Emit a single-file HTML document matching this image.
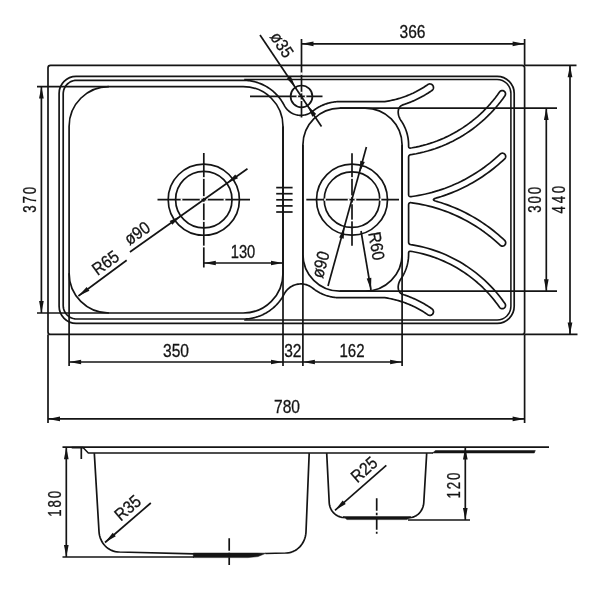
<!DOCTYPE html>
<html><head><meta charset="utf-8"><title>Sink drawing</title>
<style>
html,body{margin:0;padding:0;background:#fff;}
body{width:600px;height:600px;overflow:hidden;}
svg{display:block;}
svg text{font-family:"Liberation Sans",sans-serif;}
svg{filter:grayscale(1);}
</style></head>
<body>
<svg width="600" height="600" viewBox="0 0 600 600" stroke="#141414" fill="none">
<rect x="0" y="0" width="600" height="600" fill="#fff" stroke="none"/>
<rect x="48" y="65.3" width="476.6" height="269.1" rx="2.5" ry="2.5" stroke-width="1.7" fill="none"/>
<rect x="59.1" y="76.4" width="455.1" height="246.9" rx="17" ry="17" stroke-width="1.7" fill="none"/>
<rect x="69.1" y="86.6" width="213.9" height="226.4" rx="39.8" ry="39.8" stroke-width="1.7" fill="none"/>
<rect x="302.9" y="108.1" width="99.2" height="183.1" rx="37" ry="37" stroke-width="1.7" fill="none"/>
<path d="M243.2 80.3 L244.46 80.32 L245.72 80.37 L246.98 80.45 L248.23 80.58 L249.48 80.73 L250.73 80.92 L251.97 81.14 L253.2 81.4 L254.42 81.69 L255.64 82.01 L256.85 82.37 L258.05 82.76 L259.24 83.18 L260.41 83.63 L261.57 84.12 L262.72 84.64 L263.86 85.19 L264.97 85.77 L266.08 86.38 L267.16 87.02 L268.23 87.69 L269.28 88.38 L270.31 89.11 L271.32 89.87 L272.3 90.65 L273.27 91.46 L274.21 92.29 L275.13 93.15 L276.03 94.04 L276.9 94.95 L277.75 95.88 L278.57 96.83 L279.36 97.81 L280.13 98.81 L280.87 99.83 L281.58 100.87 L282.27 101.93 L282.92 103 L283.55 104.1 L284.14 105.21 L284.54 105.94 L284.97 106.65 L285.43 107.34 L285.92 108.02 L286.45 108.66 L287 109.29 L287.57 109.89 L288.17 110.46 L288.8 111.01 L289.45 111.53 L290.13 112.02 L290.82 112.48 L291.53 112.9 L292.27 113.3 L293.02 113.66 L293.78 113.99 L294.56 114.29 L295.35 114.55 L296.15 114.77 L296.96 114.96 L297.78 115.12 L298.6 115.23 L299.43 115.31 L300.26 115.36 L301.09 115.37 L301.93 115.34 L302.75 115.27 L303.58 115.17 L304.4 115.03 L305.21 114.85 L306.02 114.64 L306.81 114.39 L307.6 114.11 L308.37 113.79 L309.12 113.44 L309.86 113.06 L310.58 112.65 L311.28 112.2 L311.97 111.72 L312.62 111.21 L313.2 110.76 L313.79 110.31 L314.38 109.87 L314.98 109.44 L315.59 109.03 L316.2 108.62 L316.83 108.22 L317.45 107.84 L318.09 107.46 L318.73 107.1 L319.38 106.75 L320.03 106.4 L320.69 106.07 L321.35 105.75 L322.02 105.44 L322.7 105.15 L323.37 104.86 L324.06 104.59 L324.75 104.32 L325.44 104.07 L326.14 103.83 L326.84 103.61 L327.54 103.39 L328.25 103.19 L328.96 103 L329.68 102.82 L330.4 102.65 L331.12 102.5 L331.84 102.35 L332.57 102.22 L333.29 102.1 L334.02 102 L334.75 101.91 L335.49 101.82 L336.22 101.76 L336.95 101.7 L337.69 101.66 L338.43 101.62 L339.16 101.61 L339.9 101.6 L384.73 101.6 L386.27 101.37 L387.8 101.11 L389.34 100.83 L390.87 100.53 L392.39 100.2 L393.91 99.85 L395.42 99.47 L396.93 99.07 L398.43 98.65 L399.92 98.2 L401.41 97.73 L402.89 97.24 L404.36 96.73 L405.82 96.19 L407.27 95.63 L408.72 95.04 L410.15 94.44 L411.58 93.81 L413 93.16 L414.4 92.48 L415.8 91.79 L417.18 91.07 L418.55 90.33 L419.91 89.57 L421.26 88.79 L422.6 87.99 L423.92 87.17 L425.23 86.33 L426.53 85.46 L427.82 84.58 L428.43 84.23 L429.1 84.01 L429.8 83.93 L430.51 83.98 L431.19 84.17 L431.82 84.49 L432.37 84.93 L432.83 85.46 L433.18 86.08 L433.4 86.75 L433.48 87.45 L433.43 88.16 L433.24 88.83 L432.92 89.46 L432.48 90.02 L431.94 90.48 L431.04 91.1 L430.14 91.72 L429.23 92.32 L428.31 92.91 L427.38 93.5 L426.45 94.08 L425.52 94.64 L424.57 95.2 L423.63 95.75 L422.67 96.28 L421.71 96.81 L420.75 97.33 L419.78 97.84 L418.81 98.34 L417.83 98.82 L416.84 99.3 L415.85 99.77 L414.86 100.23 L413.86 100.67 L412.86 101.11 L411.85 101.54 L410.84 101.96 L409.82 102.36 L408.8 102.76 L407.78 103.14 L406.75 103.52 L405.72 103.88 L404.68 104.24 L403.64 104.58 L402.6 104.91 L401.62 105.4 L400.76 106 L400.04 106.69 L399.44 107.47 L398.96 108.34 L398.6 109.27 L398.35 110.26 L398.22 111.29 L398.19 112.37 L398.27 113.47 L398.44 114.6 L398.72 115.73 L399.09 116.86 L399.55 117.98 L400.1 119.08 L400.73 120.15 L401.48 121.25 L402.19 122.37 L402.87 123.51 L403.51 124.68 L404.11 125.86 L404.68 127.06 L405.22 128.28 L405.71 129.51 L406.17 130.76 L406.59 132.02 L406.97 133.29 L407.31 134.58 L407.61 135.87 L407.87 137.17 L408.09 138.48 L408.28 139.8 L408.42 141.12 L408.52 142.44 L408.58 143.77 L408.6 145.1 L408.6 146.16 L408.62 146.57 L408.69 146.94 L408.8 147.25 L408.95 147.51 L409.14 147.72 L409.38 147.88 L409.66 147.99 L409.99 148.05 L410.36 148.05 L410.77 148.01 L412.22 147.78 L415.82 147.09 L419.41 146.31 L422.97 145.44 L426.5 144.46 L430.01 143.39 L433.49 142.23 L436.93 140.97 L440.34 139.62 L443.71 138.17 L447.04 136.64 L450.33 135.01 L453.57 133.3 L456.76 131.49 L459.9 129.6 L462.99 127.63 L466.03 125.57 L469.01 123.43 L471.93 121.21 L474.78 118.91 L477.58 116.54 L480.3 114.09 L482.96 111.56 L485.55 108.97 L488.07 106.3 L490.52 103.57 L492.89 100.77 L495.18 97.91 L497.39 94.99 L499.53 92 L499.95 91.51 L500.45 91.11 L501.03 90.82 L501.65 90.64 L502.3 90.59 L502.94 90.66 L503.56 90.86 L504.12 91.18 L504.61 91.6 L505.01 92.1 L505.31 92.68 L505.48 93.3 L505.54 93.95 L505.46 94.59 L505.26 95.2 L504.95 95.77 L502.69 98.92 L500.35 102.02 L497.92 105.04 L495.41 108 L492.82 110.89 L490.15 113.71 L487.41 116.45 L484.59 119.11 L481.7 121.7 L478.74 124.21 L475.71 126.63 L472.62 128.97 L469.46 131.22 L466.24 133.39 L462.97 135.47 L459.64 137.45 L456.25 139.35 L452.81 141.15 L449.33 142.86 L445.8 144.46 L442.23 145.98 L438.62 147.39 L434.97 148.7 L431.28 149.91 L427.56 151.03 L423.82 152.03 L420.05 152.94 L416.25 153.74 L412.43 154.44 L410.77 154.69 L410.36 154.78 L409.99 154.9 L409.67 155.06 L409.38 155.26 L409.14 155.49 L408.95 155.77 L408.8 156.07 L408.69 156.42 L408.62 156.81 L408.6 157.23 L408.6 194.31 L408.63 194.8 L408.7 195.23 L408.83 195.61 L409.01 195.92 L409.24 196.18 L409.53 196.38 L409.86 196.52 L410.25 196.6 L410.69 196.62 L411.18 196.58 L412 196.48 L415.39 195.97 L418.77 195.39 L422.13 194.74 L425.48 194.02 L428.81 193.22 L432.13 192.36 L435.42 191.42 L438.7 190.41 L441.95 189.33 L445.18 188.19 L448.38 186.97 L451.56 185.69 L454.71 184.34 L457.83 182.92 L460.92 181.43 L463.97 179.88 L466.99 178.26 L469.98 176.58 L472.93 174.84 L475.84 173.03 L478.71 171.16 L481.55 169.23 L484.34 167.24 L487.08 165.19 L489.78 163.09 L492.44 160.92 L495.05 158.7 L497.61 156.42 L500.12 154.09 L500.63 153.69 L501.21 153.4 L501.83 153.23 L502.48 153.19 L503.12 153.27 L503.73 153.47 L504.3 153.79 L504.79 154.21 L505.18 154.72 L505.47 155.3 L505.64 155.93 L505.69 156.57 L505.61 157.21 L505.41 157.83 L505.09 158.39 L504.66 158.88 L502.57 160.83 L500.45 162.74 L498.29 164.62 L496.1 166.46 L493.88 168.26 L491.63 170.02 L489.36 171.74 L487.05 173.43 L484.71 175.07 L482.34 176.68 L479.95 178.24 L477.53 179.76 L475.09 181.24 L472.62 182.68 L470.12 184.07 L467.61 185.43 L465.07 186.74 L462.5 188 L459.92 189.22 L457.31 190.4 L454.69 191.53 L452.05 192.62 L449.39 193.66 L446.71 194.66 L444.01 195.6 L441.3 196.51 L438.57 197.36 L436.68 197.92 L435.53 198.27 L434.64 198.61 L434 198.96 L433.62 199.3 L433.49 199.65 L433.62 200 L434 200.34 L434.64 200.69 L435.53 201.03 L436.68 201.38 L438.57 201.94 L441.3 202.79 L444.01 203.7 L446.71 204.64 L449.39 205.64 L452.05 206.68 L454.69 207.77 L457.31 208.9 L459.92 210.08 L462.5 211.3 L465.07 212.56 L467.61 213.87 L470.12 215.23 L472.62 216.62 L475.09 218.06 L477.53 219.54 L479.95 221.06 L482.34 222.62 L484.71 224.23 L487.05 225.87 L489.36 227.56 L491.63 229.28 L493.88 231.04 L496.1 232.84 L498.29 234.68 L500.45 236.56 L502.57 238.47 L504.66 240.42 L505.09 240.91 L505.41 241.47 L505.61 242.09 L505.69 242.73 L505.64 243.37 L505.47 244 L505.18 244.58 L504.79 245.09 L504.3 245.51 L503.73 245.83 L503.12 246.03 L502.48 246.11 L501.83 246.07 L501.21 245.9 L500.63 245.61 L500.12 245.21 L497.61 242.88 L495.05 240.6 L492.44 238.38 L489.78 236.21 L487.08 234.11 L484.34 232.06 L481.55 230.07 L478.71 228.14 L475.84 226.27 L472.93 224.46 L469.98 222.72 L466.99 221.04 L463.97 219.42 L460.92 217.87 L457.83 216.38 L454.71 214.96 L451.56 213.61 L448.38 212.33 L445.18 211.11 L441.95 209.97 L438.7 208.89 L435.42 207.88 L432.13 206.94 L428.81 206.08 L425.48 205.28 L422.13 204.56 L418.77 203.91 L415.39 203.33 L412 202.82 L411.18 202.72 L410.69 202.68 L410.25 202.7 L409.86 202.78 L409.53 202.92 L409.24 203.12 L409.01 203.38 L408.83 203.69 L408.7 204.07 L408.63 204.5 L408.6 204.99 L408.6 242.07 L408.62 242.49 L408.69 242.88 L408.8 243.23 L408.95 243.53 L409.14 243.81 L409.38 244.04 L409.67 244.24 L409.99 244.4 L410.36 244.52 L410.77 244.61 L412.43 244.86 L416.25 245.56 L420.05 246.36 L423.82 247.27 L427.56 248.27 L431.28 249.39 L434.97 250.6 L438.62 251.91 L442.23 253.32 L445.8 254.84 L449.33 256.44 L452.81 258.15 L456.25 259.95 L459.64 261.85 L462.97 263.83 L466.24 265.91 L469.46 268.08 L472.62 270.33 L475.71 272.67 L478.74 275.09 L481.7 277.6 L484.59 280.19 L487.41 282.85 L490.15 285.59 L492.82 288.41 L495.41 291.3 L497.92 294.26 L500.35 297.28 L502.69 300.38 L504.95 303.53 L505.26 304.1 L505.46 304.71 L505.54 305.35 L505.48 306 L505.31 306.62 L505.01 307.2 L504.61 307.7 L504.12 308.12 L503.56 308.44 L502.94 308.64 L502.3 308.71 L501.65 308.66 L501.03 308.48 L500.45 308.19 L499.95 307.79 L499.53 307.3 L497.39 304.31 L495.18 301.39 L492.89 298.53 L490.52 295.73 L488.07 293 L485.55 290.33 L482.96 287.74 L480.3 285.21 L477.58 282.76 L474.78 280.39 L471.93 278.09 L469.01 275.87 L466.03 273.73 L462.99 271.67 L459.9 269.7 L456.76 267.81 L453.57 266 L450.33 264.29 L447.04 262.66 L443.71 261.13 L440.34 259.68 L436.93 258.33 L433.49 257.07 L430.01 255.91 L426.5 254.84 L422.97 253.86 L419.41 252.99 L415.82 252.21 L412.22 251.52 L410.77 251.29 L410.36 251.25 L409.99 251.25 L409.66 251.31 L409.38 251.42 L409.14 251.58 L408.95 251.79 L408.8 252.05 L408.69 252.36 L408.62 252.73 L408.6 253.14 L408.6 254.2 L408.58 255.53 L408.52 256.86 L408.42 258.18 L408.28 259.5 L408.09 260.82 L407.87 262.13 L407.61 263.43 L407.31 264.72 L406.97 266.01 L406.59 267.28 L406.17 268.54 L405.71 269.79 L405.22 271.02 L404.68 272.24 L404.11 273.44 L403.51 274.62 L402.87 275.79 L402.19 276.93 L401.48 278.05 L400.73 279.15 L400.1 280.22 L399.55 281.32 L399.09 282.44 L398.72 283.57 L398.44 284.7 L398.27 285.83 L398.19 286.93 L398.22 288.01 L398.35 289.04 L398.6 290.03 L398.96 290.96 L399.44 291.83 L400.04 292.61 L400.76 293.3 L401.62 293.9 L402.6 294.39 L403.64 294.72 L404.68 295.06 L405.72 295.42 L406.75 295.78 L407.78 296.16 L408.8 296.54 L409.82 296.94 L410.84 297.34 L411.85 297.76 L412.86 298.19 L413.86 298.63 L414.86 299.07 L415.85 299.53 L416.84 300 L417.83 300.48 L418.81 300.96 L419.78 301.46 L420.75 301.97 L421.71 302.49 L422.67 303.02 L423.63 303.55 L424.57 304.1 L425.52 304.66 L426.45 305.22 L427.38 305.8 L428.31 306.39 L429.23 306.98 L430.14 307.58 L431.04 308.2 L431.94 308.82 L432.48 309.28 L432.92 309.84 L433.24 310.47 L433.43 311.14 L433.48 311.85 L433.4 312.55 L433.18 313.22 L432.83 313.84 L432.37 314.37 L431.82 314.81 L431.19 315.13 L430.51 315.32 L429.8 315.37 L429.1 315.29 L428.43 315.07 L427.82 314.72 L426.53 313.84 L425.23 312.97 L423.92 312.13 L422.6 311.31 L421.26 310.51 L419.91 309.73 L418.55 308.97 L417.18 308.23 L415.8 307.51 L414.4 306.82 L413 306.14 L411.58 305.49 L410.15 304.86 L408.72 304.26 L407.27 303.67 L405.82 303.11 L404.36 302.57 L402.89 302.06 L401.41 301.57 L399.92 301.1 L398.43 300.65 L396.93 300.23 L395.42 299.83 L393.91 299.45 L392.39 299.1 L390.87 298.77 L389.34 298.47 L387.8 298.19 L386.27 297.93 L384.73 297.7 L339.9 297.7 L339.16 297.69 L338.43 297.68 L337.69 297.64 L336.95 297.6 L336.22 297.54 L335.49 297.48 L334.75 297.39 L334.02 297.3 L333.29 297.2 L332.57 297.08 L331.84 296.95 L331.12 296.8 L330.4 296.65 L329.68 296.48 L328.96 296.3 L328.25 296.11 L327.54 295.91 L326.84 295.69 L326.14 295.47 L325.44 295.23 L324.75 294.98 L324.06 294.71 L323.37 294.44 L322.7 294.15 L322.02 293.86 L321.35 293.55 L320.69 293.23 L320.03 292.9 L319.38 292.55 L318.73 292.2 L318.09 291.84 L317.45 291.46 L316.83 291.08 L316.2 290.68 L315.59 290.27 L314.98 289.86 L314.38 289.43 L313.79 288.99 L313.2 288.54 L312.62 288.09 L311.97 287.58 L311.28 287.1 L310.58 286.65 L309.86 286.24 L309.12 285.86 L308.37 285.51 L307.6 285.19 L306.81 284.91 L306.02 284.66 L305.21 284.45 L304.4 284.27 L303.58 284.13 L302.75 284.03 L301.93 283.96 L301.09 283.93 L300.26 283.94 L299.43 283.99 L298.6 284.07 L297.78 284.18 L296.96 284.34 L296.15 284.53 L295.35 284.75 L294.56 285.01 L293.78 285.31 L293.02 285.64 L292.27 286 L291.53 286.4 L290.82 286.82 L290.13 287.28 L289.45 287.77 L288.8 288.29 L288.17 288.84 L287.57 289.41 L287 290.01 L286.45 290.64 L285.92 291.28 L285.43 291.96 L284.97 292.65 L284.54 293.36 L284.14 294.09 L283.55 295.2 L282.92 296.3 L282.27 297.37 L281.58 298.43 L280.87 299.47 L280.13 300.49 L279.36 301.49 L278.57 302.47 L277.75 303.42 L276.9 304.35 L276.03 305.26 L275.13 306.15 L274.21 307.01 L273.27 307.84 L272.3 308.65 L271.32 309.43 L270.31 310.19 L269.28 310.92 L268.23 311.61 L267.16 312.28 L266.08 312.92 L264.97 313.53 L263.86 314.11 L262.72 314.66 L261.57 315.18 L260.41 315.67 L259.24 316.12 L258.05 316.54 L256.85 316.93 L255.64 317.29 L254.42 317.61 L253.2 317.9 L251.97 318.16 L250.73 318.38 L249.48 318.57 L248.23 318.72 L246.98 318.85 L245.72 318.93 L244.46 318.98 L243.2 319 L76.7 319 L74.94 318.88 L73.21 318.54 L71.53 317.97 L69.95 317.19 L68.48 316.21 L67.15 315.05 L65.99 313.72 L65.01 312.25 L64.23 310.67 L63.66 308.99 L63.32 307.26 L63.2 305.5 L63.2 93.8 L63.32 92.04 L63.66 90.31 L64.23 88.63 L65.01 87.05 L65.99 85.58 L67.15 84.25 L68.48 83.09 L69.95 82.11 L71.53 81.33 L73.21 80.76 L74.94 80.42 L76.7 80.3 Z" stroke-width="1.7" fill="none" stroke-linejoin="round"/>
<path d="M244.2 79.5 L497.1 79.5 A13.8 13.8 0 0 1 510.9 93.3 L510.9 306.2 A13.8 13.8 0 0 1 497.1 320 L244.2 320" stroke-width="1.53" fill="none" />
<circle cx="203.8" cy="199.65" r="28.2" stroke-width="1.7" fill="none"/>
<circle cx="203.8" cy="199.65" r="35.6" stroke-width="1.7" fill="none"/>
<circle cx="352" cy="199.65" r="27.8" stroke-width="1.7" fill="none"/>
<circle cx="352" cy="199.65" r="35.5" stroke-width="1.7" fill="none"/>
<circle cx="301.5" cy="96.4" r="10.9" stroke-width="1.7" fill="none"/>
<line x1="276.2" y1="187.6" x2="292.6" y2="187.6" stroke-width="1.7" stroke-linecap="butt"/>
<line x1="276.2" y1="193.7" x2="292.6" y2="193.7" stroke-width="1.7" stroke-linecap="butt"/>
<line x1="276.2" y1="199.8" x2="292.6" y2="199.8" stroke-width="1.7" stroke-linecap="butt"/>
<line x1="276.2" y1="205.9" x2="292.6" y2="205.9" stroke-width="1.7" stroke-linecap="butt"/>
<line x1="276.2" y1="212" x2="292.6" y2="212" stroke-width="1.7" stroke-linecap="butt"/>
<line x1="157.5" y1="199.65" x2="250" y2="199.65" stroke-width="1.7" stroke-linecap="butt"/>
<line x1="180.65" y1="199.65" x2="182.35" y2="199.65" stroke="#fff" stroke-width="2.4"/>
<line x1="199.75" y1="199.65" x2="201.45" y2="199.65" stroke="#fff" stroke-width="2.4"/>
<line x1="206.15" y1="199.65" x2="207.85" y2="199.65" stroke="#fff" stroke-width="2.4"/>
<line x1="223.65" y1="199.65" x2="225.35" y2="199.65" stroke="#fff" stroke-width="2.4"/>
<line x1="203.8" y1="153" x2="203.8" y2="267.5" stroke-width="1.7" stroke-linecap="butt"/>
<line x1="203.8" y1="177.15" x2="203.8" y2="178.85" stroke="#fff" stroke-width="2.4"/>
<line x1="203.8" y1="196.15" x2="203.8" y2="197.85" stroke="#fff" stroke-width="2.4"/>
<line x1="203.8" y1="201.75" x2="203.8" y2="203.45" stroke="#fff" stroke-width="2.4"/>
<line x1="203.8" y1="220.15" x2="203.8" y2="221.85" stroke="#fff" stroke-width="2.4"/>
<line x1="203.8" y1="245.65" x2="203.8" y2="247.35" stroke="#fff" stroke-width="2.4"/>
<line x1="306.3" y1="199.65" x2="399" y2="199.65" stroke-width="1.7" stroke-linecap="butt"/>
<line x1="324.15" y1="199.65" x2="325.85" y2="199.65" stroke="#fff" stroke-width="2.4"/>
<line x1="347.75" y1="199.65" x2="349.45" y2="199.65" stroke="#fff" stroke-width="2.4"/>
<line x1="354.55" y1="199.65" x2="356.25" y2="199.65" stroke="#fff" stroke-width="2.4"/>
<line x1="379.65" y1="199.65" x2="381.35" y2="199.65" stroke="#fff" stroke-width="2.4"/>
<line x1="352" y1="153.3" x2="352" y2="245.7" stroke-width="1.7" stroke-linecap="butt"/>
<line x1="352" y1="177.15" x2="352" y2="178.85" stroke="#fff" stroke-width="2.4"/>
<line x1="352" y1="195.35" x2="352" y2="197.05" stroke="#fff" stroke-width="2.4"/>
<line x1="352" y1="202.55" x2="352" y2="204.25" stroke="#fff" stroke-width="2.4"/>
<line x1="352" y1="219.65" x2="352" y2="221.35" stroke="#fff" stroke-width="2.4"/>
<line x1="250" y1="96.4" x2="322.5" y2="96.4" stroke-width="1.7" stroke-linecap="butt"/>
<line x1="296.5" y1="96.4" x2="298.1" y2="96.4" stroke="#fff" stroke-width="2.4"/>
<line x1="304.8" y1="96.4" x2="306.4" y2="96.4" stroke="#fff" stroke-width="2.4"/>
<line x1="301.5" y1="39" x2="301.5" y2="117.5" stroke-width="1.7" stroke-linecap="butt"/>
<line x1="301.5" y1="72.5" x2="301.5" y2="74.9" stroke="#fff" stroke-width="2.4"/>
<line x1="301.5" y1="91.8" x2="301.5" y2="93.4" stroke="#fff" stroke-width="2.4"/>
<line x1="301.5" y1="99.4" x2="301.5" y2="101" stroke="#fff" stroke-width="2.4"/>
<line x1="301.5" y1="43.8" x2="524.6" y2="43.8" stroke-width="1.7" stroke-linecap="butt"/>
<polygon points="301.5,43.8 313.5,41.45 313.5,46.15" fill="#141414" stroke="none"/>
<polygon points="524.6,43.8 512.6,46.15 512.6,41.45" fill="#141414" stroke="none"/>
<line x1="524.6" y1="39" x2="524.6" y2="65.3" stroke-width="1.7" stroke-linecap="butt"/>
<text transform="translate(412.5 38) scale(0.89 1)" font-size="17.5" text-anchor="middle" stroke="#141414" stroke-width="0.3" fill="#141414">366</text>
<line x1="524.6" y1="65.3" x2="576.5" y2="65.3" stroke-width="1.7" stroke-linecap="butt"/>
<line x1="524.6" y1="334.4" x2="577.5" y2="334.4" stroke-width="1.7" stroke-linecap="butt"/>
<line x1="570" y1="65.3" x2="570" y2="334.4" stroke-width="1.7" stroke-linecap="butt"/>
<polygon points="570,65.3 572.35,77.3 567.65,77.3" fill="#141414" stroke="none"/>
<polygon points="570,334.4 567.65,322.4 572.35,322.4" fill="#141414" stroke="none"/>
<text transform="translate(565 198.3) rotate(-90) scale(0.76 1)" font-size="17.5" text-anchor="middle" letter-spacing="3.5" stroke="#141414" stroke-width="0.3" fill="#141414">440</text>
<line x1="339.9" y1="108.1" x2="557" y2="108.1" stroke-width="1.7" stroke-linecap="butt"/>
<line x1="339.9" y1="291.2" x2="557" y2="291.2" stroke-width="1.7" stroke-linecap="butt"/>
<line x1="546.3" y1="108.1" x2="546.3" y2="291.2" stroke-width="1.7" stroke-linecap="butt"/>
<polygon points="546.3,108.1 548.65,120.1 543.95,120.1" fill="#141414" stroke="none"/>
<polygon points="546.3,291.2 543.95,279.2 548.65,279.2" fill="#141414" stroke="none"/>
<text transform="translate(541.2 198.9) rotate(-90) scale(0.76 1)" font-size="17.5" text-anchor="middle" letter-spacing="2.4" stroke="#141414" stroke-width="0.3" fill="#141414">300</text>
<line x1="37" y1="86.6" x2="108.9" y2="86.6" stroke-width="1.7" stroke-linecap="butt"/>
<line x1="37" y1="313" x2="108.9" y2="313" stroke-width="1.7" stroke-linecap="butt"/>
<line x1="41.4" y1="86.6" x2="41.4" y2="313" stroke-width="1.7" stroke-linecap="butt"/>
<polygon points="41.4,86.6 43.75,98.6 39.05,98.6" fill="#141414" stroke="none"/>
<polygon points="41.4,313 39.05,301 43.75,301" fill="#141414" stroke="none"/>
<text transform="translate(36.2 198.9) rotate(-90) scale(0.76 1)" font-size="17.5" text-anchor="middle" letter-spacing="2.4" stroke="#141414" stroke-width="0.3" fill="#141414">370</text>
<line x1="69.1" y1="273.2" x2="69.1" y2="366" stroke-width="1.7" stroke-linecap="butt"/>
<line x1="283" y1="126.4" x2="283" y2="366" stroke-width="1.7" stroke-linecap="butt"/>
<line x1="302.9" y1="145.1" x2="302.9" y2="366" stroke-width="1.7" stroke-linecap="butt"/>
<line x1="402.1" y1="145.1" x2="402.1" y2="366" stroke-width="1.7" stroke-linecap="butt"/>
<line x1="69.1" y1="362" x2="402.1" y2="362" stroke-width="1.7" stroke-linecap="butt"/>
<polygon points="69.1,362 81.1,359.65 81.1,364.35" fill="#141414" stroke="none"/>
<polygon points="283,362 271,364.35 271,359.65" fill="#141414" stroke="none"/>
<polygon points="302.9,362 314.9,359.65 314.9,364.35" fill="#141414" stroke="none"/>
<polygon points="402.1,362 390.1,364.35 390.1,359.65" fill="#141414" stroke="none"/>
<text transform="translate(176 357) scale(0.89 1)" font-size="17.5" text-anchor="middle" stroke="#141414" stroke-width="0.3" fill="#141414">350</text>
<text transform="translate(292.8 357) scale(0.89 1)" font-size="17.5" text-anchor="middle" stroke="#141414" stroke-width="0.3" fill="#141414">32</text>
<text transform="translate(352 357) scale(0.86 1)" font-size="17.5" text-anchor="middle" stroke="#141414" stroke-width="0.3" fill="#141414">162</text>
<line x1="48" y1="334.4" x2="48" y2="423" stroke-width="1.7" stroke-linecap="butt"/>
<line x1="524.6" y1="334.4" x2="524.6" y2="423" stroke-width="1.7" stroke-linecap="butt"/>
<line x1="48" y1="418.9" x2="524.6" y2="418.9" stroke-width="1.7" stroke-linecap="butt"/>
<polygon points="48,418.9 60,416.55 60,421.25" fill="#141414" stroke="none"/>
<polygon points="524.6,418.9 512.6,421.25 512.6,416.55" fill="#141414" stroke="none"/>
<text transform="translate(287 413) scale(0.89 1)" font-size="17.5" text-anchor="middle" stroke="#141414" stroke-width="0.3" fill="#141414">780</text>
<line x1="203.8" y1="263" x2="283" y2="263" stroke-width="1.7" stroke-linecap="butt"/>
<polygon points="203.8,263 215.8,260.65 215.8,265.35" fill="#141414" stroke="none"/>
<polygon points="283,263 271,265.35 271,260.65" fill="#141414" stroke="none"/>
<text transform="translate(243 257.5) scale(0.84 1)" font-size="17.5" text-anchor="middle" stroke="#141414" stroke-width="0.3" fill="#141414">130</text>
<line x1="129.94" y1="251.95" x2="247.46" y2="168.73" stroke-width="1.7" stroke-linecap="butt"/>
<polygon points="226.82,183.35 235.25,174.5 237.97,178.34" fill="#141414" stroke="none"/>
<polygon points="180.78,215.95 172.35,224.8 169.63,220.96" fill="#141414" stroke="none"/>
<text transform="translate(140.5 238) rotate(-35.3) scale(0.89 1)" font-size="17.5" text-anchor="middle" stroke="#141414" stroke-width="0.3" fill="#141414">ø90</text>
<line x1="78.4" y1="296" x2="126.7" y2="260.3" stroke-width="1.7" stroke-linecap="butt"/>
<polygon points="78.4,296 86.65,286.97 89.44,290.75" fill="#141414" stroke="none"/>
<text transform="translate(109 267.5) rotate(-36.3) scale(0.89 1)" font-size="17.5" text-anchor="middle" stroke="#141414" stroke-width="0.3" fill="#141414">R65</text>
<line x1="260" y1="35" x2="321.5" y2="126.5" stroke-width="1.7" stroke-linecap="butt"/>
<text transform="translate(277 48) rotate(56.5) scale(0.89 1)" font-size="17.5" text-anchor="middle" stroke="#141414" stroke-width="0.3" fill="#141414">ø35</text>
<polygon points="295.42,87.35 286.78,78.7 290.68,76.08" fill="#141414" stroke="none"/>
<polygon points="307.58,105.45 316.22,114.1 312.32,116.72" fill="#141414" stroke="none"/>
<line x1="366.4" y1="147" x2="328" y2="286" stroke-width="1.7" stroke-linecap="butt"/>
<polygon points="344.61,226.45 343.69,238.64 339.16,237.39" fill="#141414" stroke="none"/>
<polygon points="359.39,172.85 360.31,160.66 364.84,161.91" fill="#141414" stroke="none"/>
<text transform="translate(326.3 266.2) rotate(-74.58) scale(0.89 1)" font-size="17.5" text-anchor="middle" stroke="#141414" stroke-width="0.3" fill="#141414">ø90</text>
<line x1="361" y1="231" x2="371" y2="290" stroke-width="1.7" stroke-linecap="butt"/>
<polygon points="371,290 366.68,278.56 371.32,277.78" fill="#141414" stroke="none"/>
<text transform="translate(368.3 233) rotate(80.4) scale(0.89 1)" font-size="17.5" text-anchor="start" stroke="#141414" stroke-width="0.3" fill="#141414">R60</text>
<line x1="62.5" y1="447.2" x2="549" y2="447.2" stroke-width="1.7" stroke-linecap="butt"/>
<line x1="62.5" y1="557" x2="194" y2="557" stroke-width="1.7" stroke-linecap="butt"/>
<line x1="66.3" y1="447.2" x2="66.3" y2="557" stroke-width="1.7" stroke-linecap="butt"/>
<polygon points="66.3,447.2 68.65,459.2 63.95,459.2" fill="#141414" stroke="none"/>
<polygon points="66.3,557 63.95,545 68.65,545" fill="#141414" stroke="none"/>
<text transform="translate(61.3 502.9) rotate(-90) scale(0.76 1)" font-size="17.5" text-anchor="middle" letter-spacing="2.4" stroke="#141414" stroke-width="0.3" fill="#141414">180</text>
<line x1="81.3" y1="447.2" x2="81.3" y2="459" stroke-width="1.7" stroke-linecap="butt"/>
<line x1="71.7" y1="447.6" x2="83.3" y2="447.6" stroke-width="1.8" stroke-linecap="butt"/>
<path d="M83 447.6 L88.3 453.1 L433 453.1" stroke-width="1.5" fill="none" stroke-linejoin="round"/>
<path d="M94.3 453.1 L99 531.5 L99.21 533.6 L99.59 535.63 L100.15 537.6 L100.87 539.48 L101.75 541.27 L102.77 542.96 L103.94 544.54 L105.23 546 L106.66 547.32 L108.2 548.5 L109.85 549.53 L111.61 550.39 L113.46 551.08 L115.39 551.58 L117.41 551.89 L119.5 552 L194 553.8" stroke-width="1.7" fill="none" stroke-linejoin="round"/>
<path d="M309.2 453.1 L306 532 L305.79 534.15 L305.41 536.23 L304.85 538.24 L304.13 540.17 L303.25 542.01 L302.23 543.74 L301.06 545.36 L299.77 546.85 L298.34 548.2 L296.8 549.41 L295.15 550.47 L293.39 551.35 L291.54 552.06 L289.61 552.57 L287.59 552.89 L285.5 553 L265.5 553.5" stroke-width="1.7" fill="none" stroke-linejoin="round"/>
<path d="M193.3 553.0 L257 553.0 L266 553.2 L258 556.6 L248 557.6 L193.3 557.6 Z" stroke-width="0.5" fill="#141414" />
<line x1="229.2" y1="538.3" x2="229.2" y2="565" stroke-width="1.7" stroke-linecap="butt" stroke-dasharray="12.5 2 2.5 2"/>
<line x1="105" y1="542.5" x2="150.8" y2="503" stroke-width="1.7" stroke-linecap="butt"/>
<polygon points="105.2,542.3 112.75,532.68 115.82,536.24" fill="#141414" stroke="none"/>
<text transform="translate(131.5 512.5) rotate(-40.8) scale(0.89 1)" font-size="17.5" text-anchor="middle" stroke="#141414" stroke-width="0.3" fill="#141414">R35</text>
<path d="M326.7 453.1 L329.2 502.5 L329.36 504.04 L329.65 505.54 L330.07 506.99 L330.61 508.38 L331.28 509.7 L332.05 510.94 L332.93 512.11 L333.91 513.18 L334.99 514.15 L336.16 515.02 L337.41 515.78 L338.73 516.41 L340.13 516.92 L341.6 517.29 L343.12 517.52 L344.7 517.6" stroke-width="1.7" fill="none" stroke-linejoin="round"/>
<path d="M426.7 453.1 L423.8 502.5 L423.64 504.06 L423.35 505.58 L422.93 507.05 L422.39 508.46 L421.72 509.79 L420.95 511.05 L420.07 512.23 L419.09 513.32 L418.01 514.31 L416.84 515.19 L415.59 515.95 L414.27 516.6 L412.87 517.11 L411.4 517.49 L409.88 517.72 L408.3 517.8" stroke-width="1.7" fill="none" stroke-linejoin="round"/>
<path d="M343 516.6 L411 516.6 L407 519.6 L347 519.6 Z" stroke-width="0.5" fill="#141414" />
<line x1="376.7" y1="498.3" x2="376.7" y2="533.8" stroke-width="1.7" stroke-linecap="butt" stroke-dasharray="12.5 2 2.5 2"/>
<line x1="408" y1="520" x2="470" y2="520" stroke-width="1.7" stroke-linecap="butt"/>
<line x1="465.3" y1="447.2" x2="465.3" y2="520" stroke-width="1.7" stroke-linecap="butt"/>
<polygon points="465.3,447.5 467.65,459.5 462.95,459.5" fill="#141414" stroke="none"/>
<polygon points="465.3,520 462.95,508 467.65,508" fill="#141414" stroke="none"/>
<text transform="translate(460 484.7) rotate(-90) scale(0.76 1)" font-size="17.5" text-anchor="middle" letter-spacing="2.4" stroke="#141414" stroke-width="0.3" fill="#141414">120</text>
<line x1="335" y1="510.3" x2="386.3" y2="465.3" stroke-width="1.7" stroke-linecap="butt"/>
<polygon points="335.2,510.1 342.66,500.41 345.77,503.95" fill="#141414" stroke="none"/>
<text transform="translate(368 474) rotate(-41.3) scale(0.89 1)" font-size="17.5" text-anchor="middle" stroke="#141414" stroke-width="0.3" fill="#141414">R25</text>
<path d="M432.5 453.0 L435.5 450.5 L535.3 450.5 L534.3 453.0 Z" stroke-width="0.5" fill="#141414" />
</svg>
</body></html>
